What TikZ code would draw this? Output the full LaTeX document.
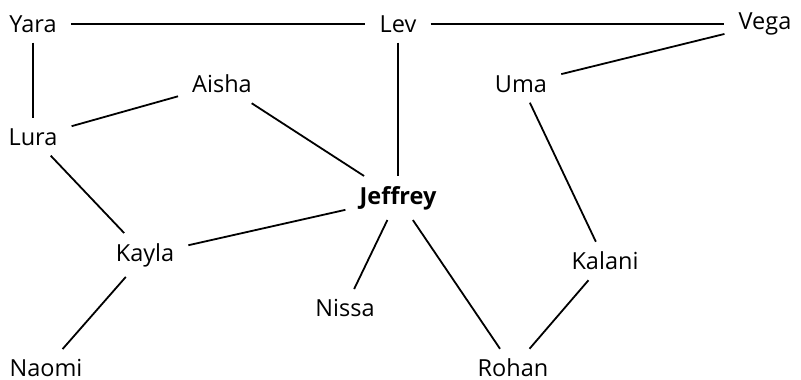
\documentclass[tikz,border=0pt]{standalone}
\usepackage{fontspec}
\setmainfont{Open Sans}
\usetikzlibrary{positioning}

\begin{document}
\begin{tikzpicture}[
    x=1pt, y=-1pt,
    person/.style={inner xsep=14pt, inner ysep=10pt, font=\fontsize{23.5}{28}\selectfont},
    centre/.style={person, font=\fontsize{23.5}{28}\selectfont\bfseries},
    link/.style={line width=1.8pt}
]

% page frame
\useasboundingbox (0,0) rectangle (801,380);

% top row
\node[person] (yara) at (33, 24) {Yara};
\node[person] (lev) at (398, 24) {Lev};
\node[person] (vega) at (765, 24) {Vega};

% middle
\node[person] (aisha) at (222, 84) {Aisha};
\node[person] (uma) at (521, 84) {Uma};
\node[person] (lura) at (33, 137) {Lura};
\node[centre] (jeffrey) at (398, 198) {Jeffrey};
\node[person] (kayla) at (145, 255) {Kayla};
\node[person] (kalani) at (605, 261) {Kalani};
\node[person] (nissa) at (345, 308) {Nissa};

% bottom row
\node[person] (naomi) at (46, 368) {Naomi};
\node[person] (rohan) at (513, 368) {Rohan};

% Links
\draw[link] (yara) -- (lev);
\draw[link] (lev) -- (vega);
\draw[link] (vega) -- (uma);
\draw[link] (yara) -- (lura);
\draw[link] (lura) -- (aisha);
\draw[link] (aisha) -- (jeffrey);
\draw[link] (lev) -- (jeffrey);
\draw[link] (lura) -- (kayla);
\draw[link] (jeffrey) -- (kayla);
\draw[link] (jeffrey) -- (nissa);
\draw[link] (jeffrey) -- (rohan);
\draw[link] (uma) -- (kalani);
\draw[link] (kalani) -- (rohan);
\draw[link] (kayla) -- (naomi);

\end{tikzpicture}
\end{document}
